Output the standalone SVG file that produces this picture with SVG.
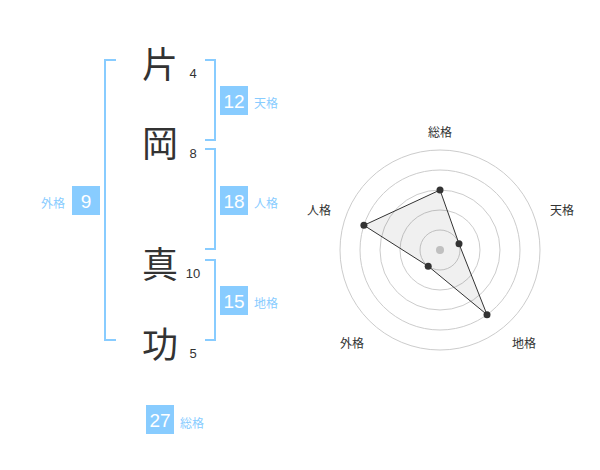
<svg xmlns="http://www.w3.org/2000/svg" width="600" height="470" viewBox="0 0 600 470">
<style>
.ch{font-family:"Noto Sans CJK JP","Noto Sans CJK SC",sans-serif;font-size:36px;fill:#333;text-anchor:middle;dominant-baseline:central}
.num{font-family:"Liberation Sans",Arial,sans-serif;font-size:13px;fill:#333;text-anchor:middle;dominant-baseline:central}
.br{fill:none;stroke:#88ccff;stroke-width:2}
.box{fill:#88ccff}
.bt{font-family:"Liberation Sans",Arial,sans-serif;font-size:19px;fill:#fff;text-anchor:middle;dominant-baseline:central}
.lb{font-family:"Noto Sans CJK JP","Noto Sans CJK SC",sans-serif;font-size:12px;fill:#88ccff;dominant-baseline:central}
.ring{fill:none;stroke:#ccc;stroke-width:1}
.rl{font-family:"Noto Sans CJK JP","Noto Sans CJK SC",sans-serif;font-size:12px;fill:#333;text-anchor:middle;dominant-baseline:central}
.pt{fill:#333}
</style>
<rect width="600" height="470" fill="#fff"/>
<g id="name">
<g id="c1"><text class="ch" x="160" y="62">片</text><text class="num" x="193" y="73">4</text></g>
<g id="c2"><text class="ch" x="160" y="141">岡</text><text class="num" x="193" y="153">8</text></g>
<g id="c3"><text class="ch" x="160" y="262">真</text><text class="num" x="193" y="273">10</text></g>
<g id="c4"><text class="ch" x="160" y="342">功</text><text class="num" x="193" y="353">5</text></g>
</g>
<g id="connectors">
<path class="br" d="M116,60 H105 V340 H116"/>
<path class="br" d="M205,60 H215 V140 H205"/>
<path class="br" d="M205,149 H215 V249 H205"/>
<path class="br" d="M205,260 H215 V340 H205"/>
</g>
<g id="tenkaku"><rect class="box" x="220" y="86" width="28" height="29"/><text class="bt" x="234" y="101">12</text><text class="lb" x="254" y="102">天格</text></g>
<g id="jinkaku"><rect class="box" x="220" y="186" width="28" height="29"/><text class="bt" x="234" y="201">18</text><text class="lb" x="254" y="202">人格</text></g>
<g id="gaikaku"><rect class="box" x="72" y="186" width="28" height="29"/><text class="bt" x="86" y="201">9</text><text class="lb" x="41" y="202">外格</text></g>
<g id="chikaku"><rect class="box" x="220" y="286" width="28" height="29"/><text class="bt" x="234" y="301">15</text><text class="lb" x="254" y="302">地格</text></g>
<g id="soukaku"><rect class="box" x="146" y="405" width="28" height="29"/><text class="bt" x="160" y="420">27</text><text class="lb" x="180" y="422">総格</text></g>
<g id="radar">
<circle class="ring" cx="440" cy="250" r="20"/>
<circle class="ring" cx="440" cy="250" r="40"/>
<circle class="ring" cx="440" cy="250" r="60"/>
<circle class="ring" cx="440" cy="250" r="80"/>
<circle class="ring" cx="440" cy="250" r="100"/>
<circle cx="440" cy="250" r="4" fill="#ccc"/>
<polygon points="440,190 459,243.8 487,314.7 428.2,266.2 363.9,225.3" fill="#000" fill-opacity="0.06" stroke="#333" stroke-width="1"/>
<circle class="pt" cx="440" cy="190" r="3.5"/>
<circle class="pt" cx="459" cy="243.8" r="3.5"/>
<circle class="pt" cx="487" cy="314.7" r="3.5"/>
<circle class="pt" cx="428.2" cy="266.2" r="3.5"/>
<circle class="pt" cx="363.9" cy="225.3" r="3.5"/>
<text class="rl" x="440" y="131">総格</text>
<text class="rl" x="562" y="209">天格</text>
<text class="rl" x="524" y="342">地格</text>
<text class="rl" x="352" y="342">外格</text>
<text class="rl" x="319" y="209">人格</text>
</g>
</svg>
